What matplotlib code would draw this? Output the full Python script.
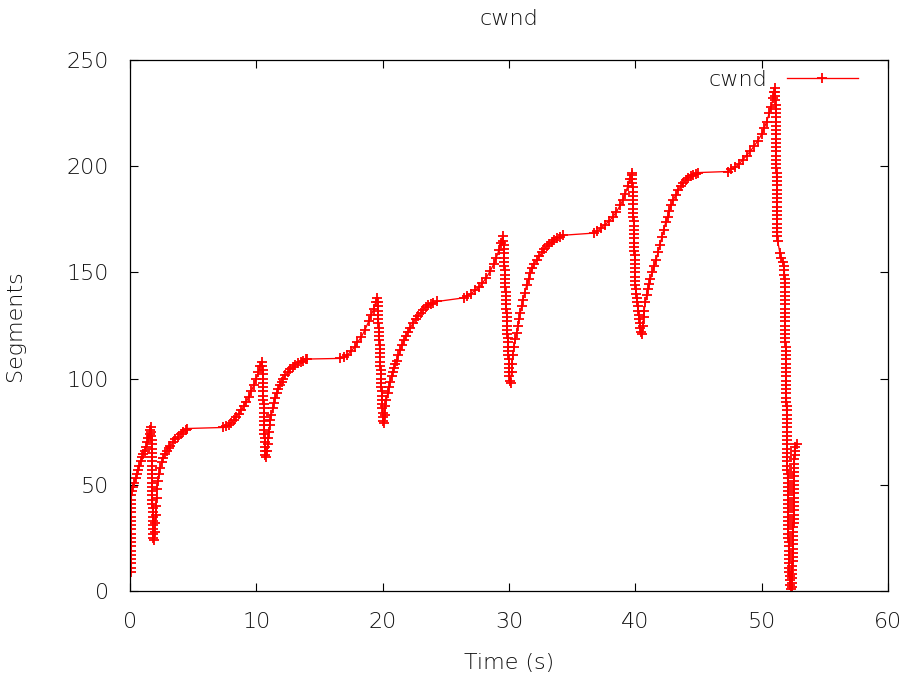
import numpy as np
import matplotlib
matplotlib.use("Agg")
import matplotlib.pyplot as plt

# ---- data (time in s, cwnd in segments) ----
a_t = [0.05,0.05,0.05,0.06,0.06,0.06,0.07,0.07,0.07,0.08,0.08,0.08,0.09,0.09,0.09,0.10,0.10,0.11,0.11]
a_y = [9,11,13,15,17,19,21,23,25,27,29,31,33,35,37,39,41,43,45]
a2_t = [0.15,0.25,0.35,0.45,0.55,0.65,0.75,0.85,0.95,1.05,1.15,1.25,1.35,1.45,1.55,1.62,1.66]
a2_y = [47,49,51,53,55,57,59,61,63,64.5,66,68,70,72,74,76,77]
b_t = [1.70,1.70,1.71,1.71,1.72,1.72,1.73,1.73,1.74,1.74,1.75,1.75,1.76,1.76,1.77,1.77,1.78,1.78,1.79,1.79,1.80,1.80,1.81,1.81,1.82,1.82]
b_y = [75,73,71,69,67,65,63,61,59,57,55,53,51,49,47,45,43,41,39,37,35,33,31,29,27,25]
c_t = [1.90,1.95,1.99,2.03,2.07,2.10,2.14,2.20,2.30,2.40,2.50,2.60,2.75,2.90,3.05,3.20,3.40,3.60,3.80,4.00,4.20,4.40,4.50]
c_y = [24,28,32,36,40,44,48,52,55,58,60.5,62.5,64.5,66,67.5,68.5,70,71.5,72.5,74,75,76,76.5]
d_t = [7.40,7.60,7.80,8.00,8.20,8.40,8.60,8.80,9.00,9.20,9.40,9.60,9.80,10.00,10.15,10.30,10.42]
d_y = [77,77.5,78,79,80.5,82,83.5,85,87,89,91.5,94,97,100,103,106,108]
e_t = [10.48,10.49,10.50,10.51,10.52,10.53,10.54,10.55,10.56,10.57,10.58,10.59,10.60,10.61,10.62,10.63,10.64,10.65,10.66,10.67,10.68,10.70]
e_y = [106,104,102,100,98,96,94,92,90,88,86,84,82,80,78,76,74,72,70,68,66,64]
f_t = [10.80,10.85,10.90,10.95,11.00,11.05,11.10,11.20,11.30,11.40,11.50,11.60,11.70,11.85,12.00,12.15,12.30,12.50,12.70,12.90,13.10,13.30,13.50,13.70,13.90,14.00]
f_y = [63,66,69,72,75,78,80.5,83,86,88.5,91,93,95,97,98.5,100,101.5,103,104.5,105.5,106.5,107.3,108,108.5,109,109.2]
g_t = [16.60,16.90,17.20,17.50,17.80,18.00,18.30,18.60,18.90,19.10,19.30,19.45,19.55]
g_y = [109.5,110,111,113,115,117,119.5,123,127,130,133,136,138]
h_t = [19.60,19.61,19.63,19.64,19.66,19.67,19.69,19.70,19.72,19.73,19.75,19.76,19.78,19.79,19.81,19.82,19.84,19.85,19.87,19.88,19.90,19.91,19.93,19.94,19.96,19.97,19.99,20.00,20.02]
h_y = [136,134,132,130,128,126,124,122,120,118,116,114,112,110,108,106,104,102,100,98,96,94,92,90,88,86,84,82,80]
i_t = [20.10,20.15,20.20,20.30,20.40,20.50,20.60,20.70,20.80,20.90,21.00,21.10,21.25,21.40,21.55,21.70,21.85,22.00,22.20,22.40,22.60,22.80,23.00,23.20,23.40,23.60,23.80,24.00,24.30]
i_y = [79,83,87,90,93,96,98.5,101,103,105,107,108.5,111,113.5,116,118,120,122,124,126,128,129.5,131,132.5,133.5,134.5,135.3,135.8,136.3]
j_t = [26.40,26.70,27.00,27.30,27.60,27.90,28.20,28.50,28.80,29.00,29.20,29.35,29.50]
j_y = [138,139,140,141.5,143,145,147.5,150.5,154,157,160.5,164,167]
k_t = [29.55,29.57,29.58,29.60,29.61,29.63,29.64,29.66,29.67,29.69,29.70,29.72,29.73,29.75,29.76,29.78,29.79,29.81,29.82,29.84,29.85,29.87,29.88,29.90,29.91,29.93,29.94,29.96,29.97,29.99,30.00,30.02,30.03,30.05]
k_y = [165,163,161,159,157,155,153,151,149,147,145,143,141,139,137,135,133,131,129,127,125,123,121,119,117,115,113,111,109,107,105,103,101,99]
l_t = [30.12,30.20,30.25,30.30,30.40,30.50,30.60,30.70,30.80,30.90,31.00,31.10,31.25,31.40,31.55,31.70,31.85,32.00,32.20,32.40,32.60,32.80,33.00,33.20,33.40,33.60,33.80,34.00,34.30]
l_y = [98,103,107,111,115,118.5,121.5,125,128,131,134,137,140.5,144,147,149.5,152,154,156,157.5,159.5,161,162.5,163.5,164.5,165.3,166,166.7,167.5]
m_t = [36.70,37.00,37.30,37.60,37.90,38.20,38.50,38.80,39.00,39.20,39.40,39.55,39.70]
m_y = [168.5,169.5,171,172.5,174,176,178.5,181.5,184,187,190.5,194,197]
n_t = [39.75,39.76,39.77,39.78,39.79,39.80,39.81,39.82,39.83,39.84,39.85,39.86,39.87,39.88,39.89,39.90,39.91,39.92,39.93,39.94,39.95,39.96,39.97,39.98,39.99,40.00,40.01,40.02,
       40.06,40.10,40.14,40.18,40.22,40.26,40.30,40.34,40.38,40.42]
n_y = [196,194,192,190,188,186,184,182,180,178,176,174,172,170,168,166,164,162,160,158,156,154,152,150,148,146,144,142,140,138,136,134,132,130,128,126,124,122]
o_t = [40.55,40.60,40.65,40.70,40.80,40.90,41.00,41.10,41.20,41.35,41.50,41.65,41.80,41.95,42.10,42.25,42.40,42.55,42.70,42.85,43.00,43.20,43.40,43.60,43.80,44.00,44.20,44.40,44.60,44.80,45.00]
o_y = [121,125,129,132,136,139.5,142,144.5,147,150,153,156,159.5,163,166.5,170,173.5,176,179,181.5,184,186.5,189,190.5,192,193.5,194.5,195.3,196,196.5,197]
p_t = [47.30,47.60,47.90,48.20,48.50,48.80,49.10,49.40,49.70,50.00,50.20,50.40,50.60,50.75,50.90,51.00,51.05]
p_y = [197.5,198.5,199.5,201,203,205,207,209.5,212,215,218,221,225,228,232,235,237]
q1_t = [51.08,51.09,51.09,51.10,51.10,51.11,51.11,51.12,51.12,51.13,51.13,51.14,51.14,51.15,51.15,51.16,51.16,51.17,51.17,51.18,51.18,51.19,51.19,51.20,51.20,51.21,51.21,51.22,51.22,51.23,51.23,51.24,51.24,51.25,51.25,51.26]
q1_y = [235,233,231,229,227,225,223,221,219,217,215,213,211,209,207,205,203,201,199,197,195,193,191,189,187,185,183,181,179,177,175,173,171,169,167,165]
q2_t = [51.45,51.55,51.65,51.75]
q2_y = [159,157,155,153]
q3_t = [51.80,51.80,51.81,51.81,51.82,51.82,51.83,51.83,51.84,51.84,51.85,51.85,51.86,51.86,51.87,51.87,51.88,51.88]
q3_y = [151,149,147,145,143,141,139,137,135,133,131,129,127,125,123,121,119,117]
q4_t = [51.90,51.90,51.91,51.91,51.92,51.92,51.93,51.93,51.94,51.94,51.95,51.95,51.96,51.96,51.97,51.97,51.98,51.98,51.99,51.99,52.00]
q4_y = [115,113,111,109,107,105,103,101,99,97,95,93,91,89,87,85,83,81,79,77,75]
q5_t = [52.00,52.01,52.01,52.02,52.02,52.03,52.03,52.04,52.04,52.05,52.05,52.06,52.06,52.07,52.07,52.08,52.08,52.09,52.09,52.10,52.10,52.11,52.11,52.12,52.12,52.13,52.13,52.14,52.14,52.15,52.15,52.17,52.19,52.21,52.23,52.26,52.30]
q5_y = [73,71,69,67,65,63,61,59,57,55,53,51,49,47,45,43,41,39,37,35,33,31,29,27,25,23,21,19,17,15,13,11,9,7,5,3,1]
r_t = [52.38,52.40,52.41,52.42,52.43,52.44,52.45,52.46,52.47,52.48,52.49,52.50,52.50,52.51,52.51,52.52,52.52,52.53,52.53,52.54,52.54,52.55,52.55,52.56,52.56,52.57,52.57,52.58,52.58,52.59,52.59,52.60,52.60,52.61,52.78]
r_y = [2,4,6,8,10,12,14,16,18,20,22,24,26,28,30,32,34,36,38,40,42,44,46,48,50,52,54,56,58,60,62,64,66,68,69]

x_ticks = [0, 10, 20, 30, 40, 50, 60]
y_ticks = [0, 50, 100, 150, 200, 250]

t_parts = [a_t, a2_t, b_t, c_t, d_t, e_t, f_t, g_t, h_t, i_t, j_t, k_t, l_t, m_t, n_t, o_t, p_t,
           q1_t, q2_t, q3_t, q4_t, q5_t, r_t]
y_parts = [a_y, a2_y, b_y, c_y, d_y, e_y, f_y, g_y, h_y, i_y, j_y, k_y, l_y, m_y, n_y, o_y, p_y,
           q1_y, q2_y, q3_y, q4_y, q5_y, r_y]
time = np.concatenate([np.asarray(p, float) for p in t_parts])
cwnd = np.concatenate([np.asarray(p, float) for p in y_parts])

# ---- drawing ----
FS = 16
TXT = "#111111"
W = "light"
plt.rcParams["font.family"] = ["DejaVu Sans"]
plt.rcParams["font.weight"] = W

fig = plt.figure(figsize=(9.04, 6.75), dpi=100)
ax = fig.add_axes([130/904, 1-591/675, 758/904, 531/675])

ax.plot(time, cwnd, color="#ff0000", lw=0.95, marker="+", ms=7.5, mew=1.3, label="cwnd")

ax.set_xlim(0, 60)
ax.set_ylim(0, 250)
ax.set_xticks(x_ticks)
ax.set_yticks(y_ticks)
ax.tick_params(direction="in", length=6, width=0.8, top=True, right=True,
               labelsize=FS, labelcolor=TXT, color="black")
ax.tick_params(axis="y", pad=15)
ax.tick_params(axis="x", pad=15)
for s in ax.spines.values():
    s.set_linewidth(0.9)
    s.set_color("black")

ax.set_title("cwnd", fontsize=FS, color=TXT, pad=25, fontweight=W)
ax.set_xlabel("Time (s)", fontsize=FS, color=TXT, labelpad=15, fontweight=W)
ax.set_ylabel("Segments", fontsize=FS, color=TXT, labelpad=30, fontweight=W)

leg = ax.legend(loc="upper right", bbox_to_anchor=((858-130)/758, (591-70)/531),
                frameon=False, markerfirst=False, numpoints=1, handlelength=3.2,
                handletextpad=0.9, borderpad=0, borderaxespad=0, fontsize=FS)
for t in leg.get_texts():
    t.set_color(TXT)

fig.savefig("out.png", dpi=100)
